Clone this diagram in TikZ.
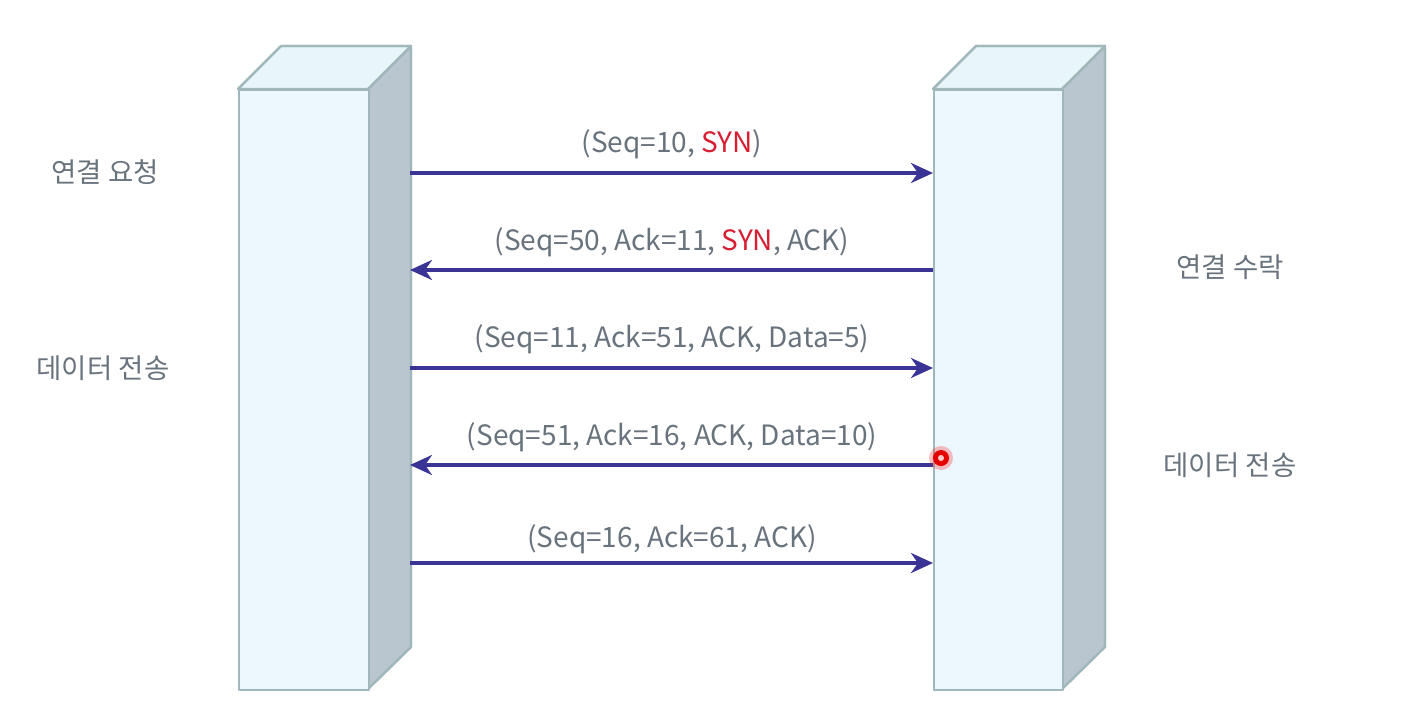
\documentclass[tikz,border=0pt]{standalone}
\usepackage{fontspec}
\setmainfont{Noto Sans CJK KR}
\usetikzlibrary{arrows.meta}
\definecolor{frontc}{RGB}{236,248,253}
\definecolor{topc}{RGB}{232,246,249}
\definecolor{sidec}{RGB}{186,198,207}
\definecolor{edgec}{RGB}{160,184,188}
\definecolor{arrc}{RGB}{58,52,150}
\definecolor{txtc}{RGB}{105,115,125}
\definecolor{redc}{RGB}{215,30,50}
\tikzset{
  face/.style={draw=edgec, line width=2.2pt, line join=round},
  msg/.style={draw=arrc, line width=3.5pt, -{Stealth[length=22pt,width=20pt,inset=7pt]}},
  lbl/.style={text=txtc, font=\fontsize{28}{32}\selectfont, inner sep=0pt},
  side/.style={text=txtc, font=\fontsize{27.5}{32}\selectfont, inner sep=0pt},
}
\newcommand{\hostbox}[3]{% x-left, x-right, name
  \fill[face, fill=sidec] (#2,89) -- (#2+43,46) -- (#2+43,647) -- (#2,689) -- cycle;
  \fill[face, fill=topc] (#1,89) -- (#1+43,46) -- (#2+43,46) -- (#2,89) -- cycle;
  \draw[face] (#2,89) -- (#2+43,46) -- (#2+43,647) -- (#2,689);
  \draw[face] (#1,89) -- (#1+43,46) -- (#2+43,46);
  \node[face, fill=frontc, minimum width=#2-#1, minimum height=600, anchor=north west, inner sep=0pt] (#3) at (#1,89) {};
}
\begin{document}
\begin{tikzpicture}[x=1pt,y=-1pt]
\useasboundingbox (0,0) rectangle (1414,710);
\fill[white] (0,0) rectangle (1414,710);
\hostbox{238}{368}{A}
\hostbox{933}{1062}{B}
% arrow endpoints
\foreach \i/\y in {1/173,2/270,3/368,4/465,5/563}{
  \coordinate (a\i) at (410,\y);
  \coordinate (b\i) at (933,\y);
}
\draw[msg] (a1) -- (b1);
\draw[msg] (b2) -- (a2);
\draw[msg] (a3) -- (b3);
\draw[msg] (b4) -- (a4);
\draw[msg] (a5) -- (b5);
\node[lbl] (l1) at (672,144) {(Seq=10, \textcolor{redc}{SYN})};
\node[lbl] (l2) at (672,242) {(Seq=50, Ack=11, \textcolor{redc}{SYN}, ACK)};
\node[lbl] (l3) at (672,339) {(Seq=11, Ack=51, ACK, Data=5)};
\node[lbl] (l4) at (672,437) {(Seq=51, Ack=16, ACK, Data=10)};
\node[lbl] (l5) at (672,539) {(Seq=16, Ack=61, ACK)};
\node[side] (s1) at (105,172) {연결 요청};
\node[side] (s2) at (103,368) {데이터 전송};
\node[side] (s3) at (1230,267) {연결 수락};
\node[side] (s4) at (1230,465) {데이터 전송};
% pointer dot
\fill[red, opacity=0.25] (941,458) circle (12);
\fill[red!90!black] (941,458) circle (8);
\fill[red!20] (941,458) circle (3);
\end{tikzpicture}
\end{document}
